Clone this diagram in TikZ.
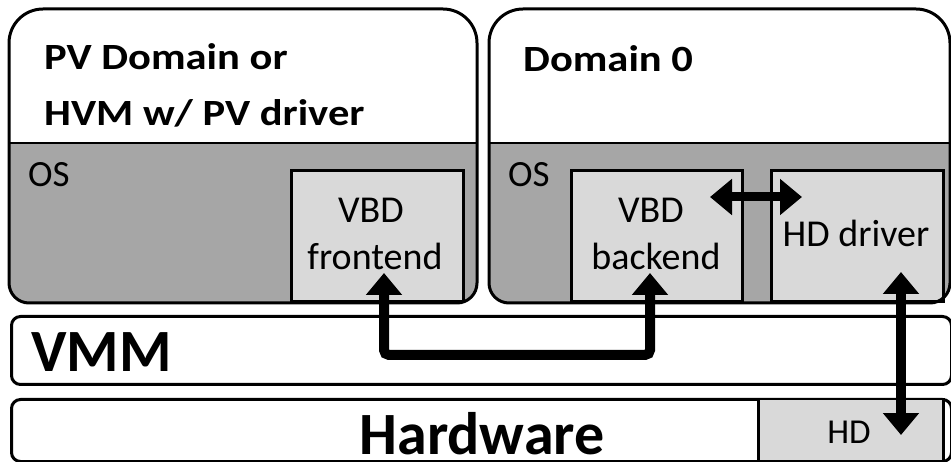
\documentclass[tikz,border=0pt]{standalone}
\usepackage{fontspec}
\usepackage{graphicx}
\setmainfont{Carlito}
\usetikzlibrary{arrows.meta,calc}
\definecolor{osgray}{HTML}{A6A6A6}
\definecolor{boxgray}{HTML}{D9D9D9}
% slightly widened bold headings
\newcommand{\widehead}[1]{\scalebox{1.15}[1]{#1}}

\begin{document}
\begin{tikzpicture}[x=1pt,y=-1pt,
  outline/.style={draw=black,line width=3pt},
  module/.style={draw=black,line width=3pt,fill=boxgray,anchor=north west,inner sep=0pt},
  layer/.style={draw=black,line width=3pt,fill=white,rounded corners=9pt,anchor=north west,inner sep=0pt},
  title/.style={font=\fontsize{37}{37}\selectfont\bfseries,anchor=base west,inner sep=0pt},
  label/.style={font=\fontsize{38}{38}\selectfont,anchor=base,inner sep=0pt},
  big/.style={font=\fontsize{60}{60}\selectfont\bfseries,anchor=base,inner sep=0pt},
  link/.style={line width=10pt,{Triangle[length=22pt,width=35pt]}-{Triangle[length=22pt,width=35pt]}},
]
\useasboundingbox (0,0) rectangle (951,462);

% ---- guest domain ----
\fill[white] (9,150) [rounded corners=34] -- (9,9) -- (477,9) [rounded corners=20] -- (477,303) -- (9,303) [sharp corners] -- cycle;
\fill[osgray] (9,143) -- (477,143) [rounded corners=20] -- (477,303) -- (9,303) [sharp corners] -- cycle;
\draw[line width=2pt] (9,143) -- (477,143);
\node[module,minimum width=172pt,minimum height=131pt] (fe) at (290,169) {};
\draw[outline] (9,150) [rounded corners=34] -- (9,9) -- (477,9) [rounded corners=20] -- (477,303) -- (9,303) [sharp corners] -- cycle;

% ---- driver domain ----
\fill[white] (489,150) [rounded corners=34] -- (489,9) -- (950,9) [rounded corners=20] -- (950,303) -- (489,303) [sharp corners] -- cycle;
\fill[osgray] (489,143) -- (950,143) [rounded corners=20] -- (950,303) -- (489,303) [sharp corners] -- cycle;
\draw[line width=2pt] (489,143) -- (950,143);
\node[module,minimum width=171pt,minimum height=131pt] (be) at (570,169) {};
\node[module,minimum width=172pt,minimum height=131pt] (hdd) at (770,169) {};
\draw[outline] (489,150) [rounded corners=34] -- (489,9) -- (950,9) [rounded corners=20] -- (950,303) -- (489,303) [sharp corners] -- cycle;

% ---- VMM and hardware layers ----
\node[layer,minimum width=940pt,minimum height=68pt] (vmm) at (10,315) {};
\node[layer,minimum width=940pt,minimum height=62pt] (hw) at (10,398) {};
\node[module,line width=2.5pt,minimum width=185pt,minimum height=62pt] (hd) at (757,398) {};

% ---- texts ----
\node[title] (t1) at (44,70) {\widehead{PV Domain or}};
\node[title] (t2) at (44,126) {\widehead{HVM w/ PV driver}};
\node[title] (t3) at (523,72) {\widehead{Domain 0}};
\node[label,anchor=base west,font=\fontsize{37}{37}\selectfont] (os1) at (28,187) {OS};
\node[label,anchor=base west,font=\fontsize{37}{37}\selectfont] (os2) at (508,187) {OS};
\node[label] (fe1) at (371,223) {VBD};
\node[label] (fe2) at (375,270) {frontend};
\node[label] (be1) at (651,223) {VBD};
\node[label] (be2) at (656,270) {backend};
\node[label] (hdd1) at (856,247) {HD driver};
\node[label,font=\fontsize{35}{35}\selectfont] (hd1) at (849,443) {HD};
\node[big,anchor=base west] (vmmt) at (31,372) {VMM};
\node[big] (hwt) at (482,454) {Hardware};

% ---- connectors ----
\coordinate (feTip) at (384,273);
\coordinate (beTip) at (650,273);
\coordinate (bus) at (0,355);
\draw[link,rounded corners=5pt] (feTip) -- (feTip |- bus) -| (beTip);

\coordinate (beSide) at (710,197);
\coordinate (hddSide) at (802,197);
\draw[link,line width=9pt] (beSide) -- (hddSide);

\coordinate (hddTip) at (901,272);
\coordinate (hdTip) at (901,435);
\draw[link] (hddTip) -- (hdTip);
\end{tikzpicture}
\end{document}
